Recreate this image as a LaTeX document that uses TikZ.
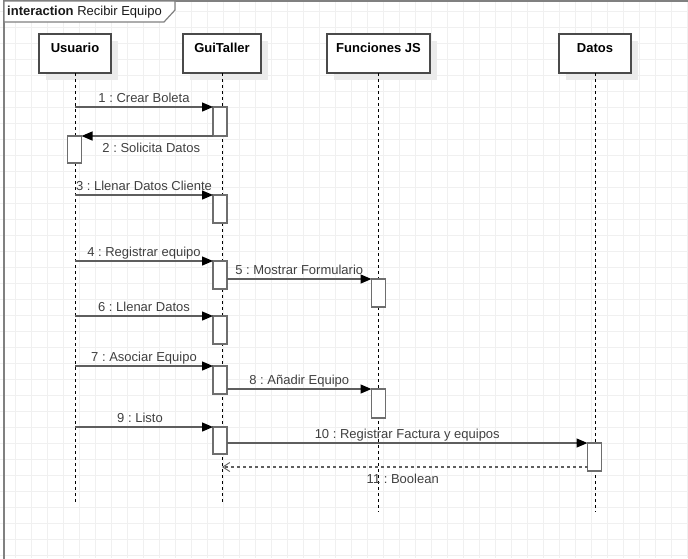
\documentclass[tikz,border=0pt]{standalone}
\usepackage{fontspec}
\setmainfont{Liberation Sans}
\usetikzlibrary{arrows.meta,shadows}
\definecolor{gridc}{HTML}{F0F0F0}
\definecolor{framec}{HTML}{808080}
\definecolor{msgc}{HTML}{5E5E5E}
\definecolor{txtc}{HTML}{404040}
\definecolor{boxc}{HTML}{4A4A4A}
\definecolor{actc}{HTML}{6E6E6E}
\definecolor{shadc}{HTML}{EBEBEB}
\frenchspacing
\begin{document}
\begin{tikzpicture}[x=1pt,y=-1pt,
  every node/.style={font=\fontsize{13}{15}\selectfont, inner sep=0pt},
  headbox/.style={draw=boxc, line width=1.3pt, fill=white, minimum width=#1, minimum height=39pt,
    anchor=north west, outer sep=0pt, text height=9pt, text depth=12pt, font=\fontsize{13}{15}\selectfont\bfseries,
    drop shadow={shadow xshift=7pt, shadow yshift=-7pt, fill=shadc, opacity=1}},
  actbox/.style={draw=actc, line width=1.3pt, fill=white, minimum width=14pt, minimum height=#1,
    anchor=north west, outer sep=0pt},
  lifeline/.style={black, line width=0.9pt, dash pattern=on 3pt off 3pt},
  msg/.style={draw=msgc, line width=1.3pt, -{Triangle[length=11pt,width=9pt,fill=black,color=black]}},
  ret/.style={draw=msgc, line width=1.2pt, dash pattern=on 3pt off 3pt, -{Straight Barb[length=7pt,width=9pt,line width=0.9pt]}},
  lblA/.style={anchor=base, yshift=4.5pt, text=txtc},
  lblB/.style={anchor=base, yshift=-16pt, text=txtc},
]
\useasboundingbox (0,0) rectangle (688,558);
% grid
\foreach \i in {0,...,42} \draw[gridc, line width=0.8pt] (15.3+16*\i,0) -- (15.3+16*\i,558);
\foreach \j in {0,...,34} \draw[gridc, line width=0.8pt] (0,11+16*\j) -- (688,11+16*\j);
% frame
\draw[framec, line width=1.2pt] (4,1) -- (690,1);
\draw[framec, line width=2pt] (4,0) -- (4,560);
\draw[framec, line width=1.2pt, fill=white] (4,1) -- (175,1) -- (175,10) -- (164,22) -- (4,22) -- cycle;
\node[anchor=base west, text=black!90] (title) at (7,15.5) {\textbf{interaction} Recibir Equipo};

% lifeline heads
\node[headbox=72pt] (usuario) at (39,34) {Usuario};
\node[headbox=78pt] (gui) at (183,34) {GuiTaller};
\node[headbox=103pt] (fjs) at (327,34) {Funciones JS};
\node[headbox=72pt] (datos) at (559,34) {Datos};

\coordinate (uEnd) at (75,503);
\coordinate (gEnd) at (222,503);
\coordinate (fEnd) at (378.5,512);
\coordinate (dEnd) at (595,512);
\draw[lifeline] (usuario.south) -- (uEnd);
\draw[lifeline] (gui.south) -- (gEnd);
\draw[lifeline] (fjs.south) -- (fEnd);
\draw[lifeline] (datos.south) -- (dEnd);

% activations
\node[actbox=29pt] (a1) at (213,107) {};
\node[actbox=27pt] (u2) at (67.5,136) {};
\node[actbox=28pt] (a3) at (213,195) {};
\node[actbox=28pt] (a4) at (213,261) {};
\node[actbox=28pt] (f5) at (371.5,279) {};
\node[actbox=28pt] (a6) at (213,316) {};
\node[actbox=28pt] (a7) at (213,366) {};
\node[actbox=29pt] (f8) at (371.5,389) {};
\node[actbox=27pt] (a9) at (213,427) {};
\node[actbox=28pt] (d10) at (587.5,443) {};
\coordinate (r11) at (222,467);

% messages
\draw[msg] (usuario |- a1.north west) -- node[lblA] {1 : Crear Boleta} (a1.north west);
\draw[msg] (a1.south west) -- node[lblB, xshift=4pt] {2 : Solicita Datos} (u2.north east);
\draw[msg] (usuario |- a3.north west) -- node[lblA] {3 : Llenar Datos Cliente} (a3.north west);
\draw[msg] (usuario |- a4.north west) -- node[lblA] {4 : Registrar equipo} (a4.north west);
\draw[msg] (a4.east |- f5.north west) -- node[lblA] {5 : Mostrar Formulario} (f5.north west);
\draw[msg] (usuario |- a6.north west) -- node[lblA] {6 : Llenar Datos} (a6.north west);
\draw[msg] (usuario |- a7.north west) -- node[lblA] {7 : Asociar Equipo} (a7.north west);
\draw[msg] (a7.east |- f8.north west) -- node[lblA] {8 : Añadir Equipo} (f8.north west);
\draw[msg] (usuario |- a9.north west) -- node[lblA, xshift=-4pt] {9 : Listo} (a9.north west);
\draw[msg] (a9.east |- d10.north west) -- node[lblA] {10 : Registrar Factura y equipos} (d10.north west);
\draw[ret] (d10.west |- r11) -- node[lblB, xshift=-2pt] {11 : Boolean} (r11);
\end{tikzpicture}
\end{document}
